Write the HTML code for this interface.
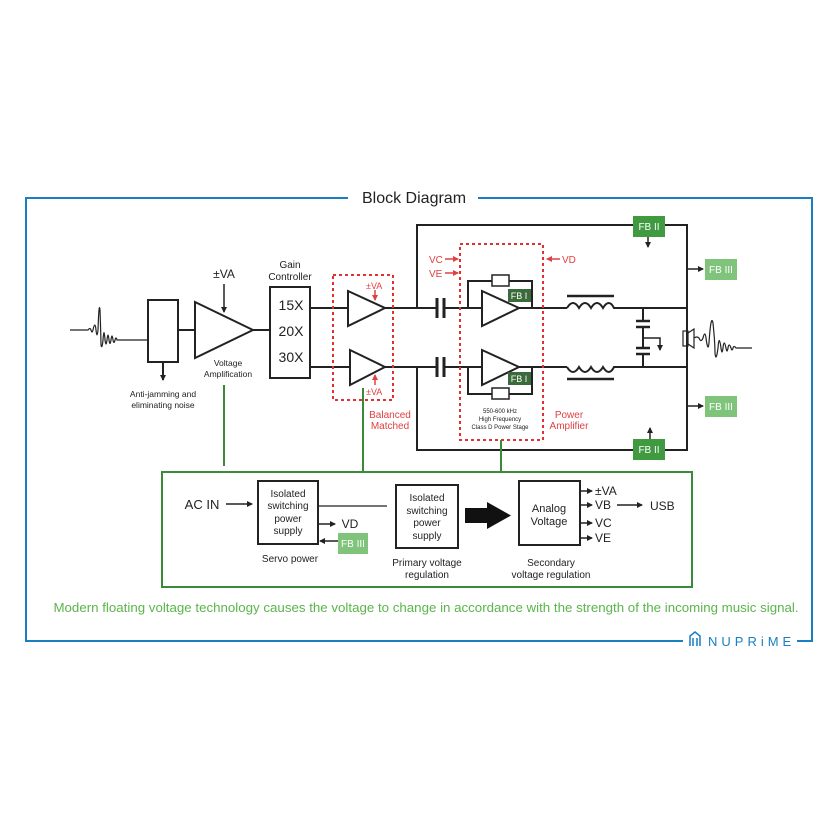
<!DOCTYPE html>
<html><head><meta charset="utf-8"><style>
html,body{margin:0;padding:0;background:#fff;}
svg{display:block;font-family:"Liberation Sans",sans-serif;}
</style></head><body>
<svg width="838" height="838" viewBox="0 0 838 838" xmlns="http://www.w3.org/2000/svg">
<defs>
<marker id="ak" markerWidth="6" markerHeight="6" refX="5" refY="3" orient="auto" markerUnits="userSpaceOnUse"><path d="M0,0 L6,3 L0,6 z" fill="#222"/></marker>
<marker id="ar" markerWidth="6" markerHeight="6" refX="5" refY="3" orient="auto" markerUnits="userSpaceOnUse"><path d="M0,0 L6,3 L0,6 z" fill="#e04040"/></marker>
</defs>
<!-- frame -->
<g stroke="#1a7fc1" stroke-width="2" fill="none">
<path d="M348,198 H26 V641 H683"/>
<path d="M478,198 H812 V641 H797"/>
</g>
<text x="414" y="203" font-size="16" text-anchor="middle" fill="#222">Block Diagram</text>
<!-- logo -->
<g fill="none" stroke="#1a7fc1" stroke-width="1.5"><path d="M690,646 V636 L695,632 L700,636 V646 M693,646 V638 M697,646 V638"/></g>
<text x="708" y="646" font-size="13" fill="#1a7fc1" letter-spacing="4">NUPRiME</text>

<g stroke="#222" stroke-width="2" fill="none">
<!-- input waveform -->
<path d="M70,330 H88 q2,-3 3,0 q1,4 2,0 q2,-10 3,0 q1,10 2,0 q1,-30 2,-20 q1,30 1,35 q1,5 2,-5 q1,-15 2,0 q1,8 2,0 q1,-10 2,0 q1,7 2,0 q1,-8 2,0 q1,5 2,0 q1,-4 2,0 H148" stroke-width="1.2"/>
<rect x="148" y="300" width="30" height="62"/>
<path d="M163,362 V380" marker-end="url(#ak)"/>
<path d="M178,330 H195"/>
<path d="M195,302 L253,330 L195,358 Z"/>
<path d="M224,284 V312" marker-end="url(#ak)" stroke-width="1.5"/>
<path d="M253,330 H270"/>
<rect x="270" y="287" width="40" height="91"/>
<path d="M310,308 H348 M310,367 H350"/>
<path d="M348,291 L385,308 L348,326 Z"/>
<path d="M350,350 L385,367 L350,385 Z"/>
<path d="M385,308 H436 M385,367 H436"/>
<!-- caps -->
<path d="M437,298 V318 M444,298 V318 M437,357 V377 M444,357 V377" stroke-width="3"/>
<path d="M444,308 H482 M444,367 H482"/>
<!-- outer loop -->
<path d="M417,308 V225 H633 M665,225 H687 V450 H665 M633,450 H417 V367"/>
<path d="M648,237 V247" marker-end="url(#ak)" stroke-width="1.5"/>
<path d="M650,439 V428" marker-end="url(#ak)" stroke-width="1.5"/>
<path d="M687,269 H703" marker-end="url(#ak)" stroke-width="1.5"/>
<path d="M687,406 H703" marker-end="url(#ak)" stroke-width="1.5"/>
<!-- power amps -->
<path d="M482,291 L519,308 L482,326 Z"/>
<path d="M482,350 L519,367 L482,385 Z"/>
<path d="M468,308 V281 H492 M509,281 H532 V308"/>
<rect x="492" y="275" width="17" height="11" stroke-width="1.5"/>
<path d="M468,367 V394 H492 M509,394 H532 V367"/>
<rect x="492" y="388" width="17" height="11" stroke-width="1.5"/>
<path d="M519,308 H567 M519,367 H567"/>
<!-- inductors -->
<path d="M567,308 q6,-10 12,0 q6,-10 12,0 q6,-10 12,0 q6,-10 11,0 H687"/>
<path d="M567,367 q6,10 12,0 q6,10 12,0 q6,10 12,0 q6,10 11,0 H687"/>
<path d="M567,296 H614 M567,379 H614" stroke-width="2.5"/>
<path d="M643,308 V321 M643,327 V348 M643,354 V367"/>
<path d="M636,321 H650 M636,327 H650 M636,348 H650 M636,354 H650" stroke-width="2.5"/>
<path d="M643,338 H660 V350" stroke-width="1.5" marker-end="url(#ak)"/>
<!-- speaker -->
<rect x="683" y="331" width="5" height="15" stroke-width="1.2"/>
<path d="M688,333 L694,329 V348 L688,344" stroke-width="1.2"/>
<path d="M694,338 q3,-2 5,0 q2,5 4,0 q2,-8 3,0 q2,15 3,5 q2,-30 4,-20 q2,20 2,30 q1,10 3,-5 q1,-15 3,0 q1,8 2,0 q1,-10 3,0 q1,6 2,0 q1,-6 3,0 q1,4 2,0 q1,-3 3,0 H752" stroke-width="1.2"/>
</g>
<!-- red dashed boxes -->
<g stroke="#e03030" stroke-width="2" stroke-dasharray="3,3" fill="none">
<rect x="333" y="275" width="60" height="125"/>
<rect x="460" y="244" width="83" height="196"/>
</g>
<g stroke="#e04040" stroke-width="1.5" fill="none">
<path d="M375,290 V300" marker-end="url(#ar)"/>
<path d="M375,385 V375" marker-end="url(#ar)"/>
<path d="M445,259 H458" marker-end="url(#ar)"/>
<path d="M445,273 H458" marker-end="url(#ar)"/>
<path d="M560,259 H547" marker-end="url(#ar)"/>
</g>
<g fill="#e04040" font-size="10">
<text x="366" y="289" font-size="9">±VA</text>
<text x="366" y="395" font-size="9">±VA</text>
<text x="390" y="418" text-anchor="middle">Balanced</text>
<text x="390" y="429" text-anchor="middle">Matched</text>
<text x="429" y="263">VC</text>
<text x="429" y="277">VE</text>
<text x="562" y="263">VD</text>
<text x="569" y="418" text-anchor="middle">Power</text>
<text x="569" y="429" text-anchor="middle">Amplifier</text>
</g>
<!-- labels black -->
<g fill="#222">
<text x="224" y="278" font-size="12" text-anchor="middle">±VA</text>
<text x="290" y="268" font-size="10" text-anchor="middle">Gain</text>
<text x="290" y="280" font-size="10" text-anchor="middle">Controller</text>
<text x="291" y="310" font-size="14" text-anchor="middle">15X</text>
<text x="291" y="336" font-size="14" text-anchor="middle">20X</text>
<text x="291" y="362" font-size="14" text-anchor="middle">30X</text>
<text x="228" y="366" font-size="8.5" text-anchor="middle">Voltage</text>
<text x="228" y="377" font-size="8.5" text-anchor="middle">Amplification</text>
<text x="163" y="397" font-size="8.5" text-anchor="middle">Anti-jamming and</text>
<text x="163" y="408" font-size="8.5" text-anchor="middle">eliminating noise</text>
<text x="500" y="413" font-size="6" text-anchor="middle">550-600 kHz</text>
<text x="500" y="421" font-size="6" text-anchor="middle">High Frequency</text>
<text x="500" y="429" font-size="6" text-anchor="middle">Class D Power Stage</text>
</g>
<!-- FB boxes -->
<g font-size="10" fill="#fff" text-anchor="middle">
<rect x="633" y="216" width="32" height="21" fill="#3f9a40"/><text x="649" y="230">FB II</text>
<rect x="633" y="439" width="32" height="21" fill="#3f9a40"/><text x="649" y="453">FB II</text>
<rect x="705" y="259" width="32" height="21" fill="#80c47c"/><text x="721" y="273">FB III</text>
<rect x="705" y="396" width="32" height="21" fill="#80c47c"/><text x="721" y="410">FB III</text>
<rect x="508" y="289" width="23" height="13" fill="#3b6b3b"/><text x="519" y="299" font-size="9">FB I</text>
<rect x="508" y="372" width="23" height="13" fill="#3b6b3b"/><text x="519" y="382" font-size="9">FB I</text>
<rect x="338" y="533" width="30" height="21" fill="#80c47c"/><text x="353" y="547">FB III</text>
</g>
<!-- green connections and box -->
<g stroke="#3a8a3a" stroke-width="2" fill="none">
<path d="M224,385 V466 M363,388 V472 M501,440 V472"/>
<rect x="162" y="472" width="530" height="115"/>
</g>
<!-- power supply -->
<g stroke="#222" stroke-width="2" fill="none">
<path d="M226,504 H252" marker-end="url(#ak)" stroke-width="1.5"/>
<rect x="258" y="481" width="60" height="63"/>
<path d="M318,506 H387" stroke-width="1.2"/>
<path d="M318,524 H335" marker-end="url(#ak)" stroke-width="1.5"/>
<path d="M338,541 H320" marker-end="url(#ak)" stroke-width="1.5"/>
<rect x="396" y="485" width="62" height="63"/>
<rect x="519" y="481" width="61" height="64"/>
<path d="M580,491 H592" marker-end="url(#ak)" stroke-width="1.5"/>
<path d="M580,505 H592" marker-end="url(#ak)" stroke-width="1.5"/>
<path d="M580,523 H592" marker-end="url(#ak)" stroke-width="1.5"/>
<path d="M580,538 H592" marker-end="url(#ak)" stroke-width="1.5"/>
<path d="M617,505 H642" marker-end="url(#ak)" stroke-width="1.5"/>
</g>
<path d="M465,508 H487 V502 L511,515.5 L487,529 V523 H465 Z" fill="#111"/>
<g fill="#222" text-anchor="middle" font-size="10">
<text x="202" y="509" font-size="13">AC IN</text>
<text x="288" y="497">Isolated</text><text x="288" y="509">switching</text><text x="288" y="522">power</text><text x="288" y="534">supply</text>
<text x="427" y="501">Isolated</text><text x="427" y="514">switching</text><text x="427" y="526">power</text><text x="427" y="539">supply</text>
<text x="549" y="512" font-size="11">Analog</text><text x="549" y="525" font-size="11">Voltage</text>
<text x="290" y="562">Servo power</text>
<text x="427" y="566">Primary voltage</text><text x="427" y="578">regulation</text>
<text x="551" y="566">Secondary</text><text x="551" y="578">voltage regulation</text>
<text x="350" y="528" font-size="12">VD</text>
</g>
<g fill="#222" font-size="12">
<text x="595" y="495">±VA</text><text x="595" y="509">VB</text><text x="595" y="527">VC</text><text x="595" y="542">VE</text>
<text x="650" y="510">USB</text>
</g>
<text x="426" y="612" font-size="13.3" fill="#5ab54a" text-anchor="middle">Modern floating voltage technology causes the voltage to change in accordance with the strength of the incoming music signal.</text>
</svg>
</body></html>
